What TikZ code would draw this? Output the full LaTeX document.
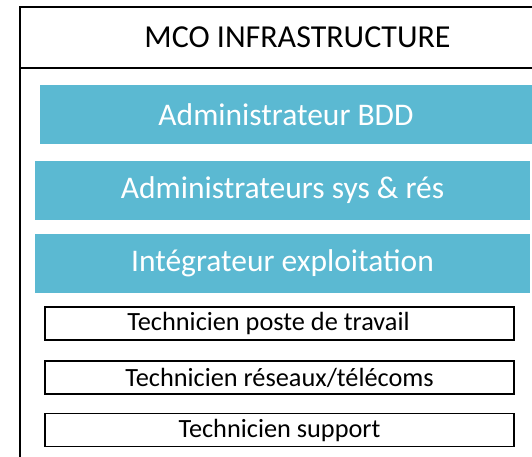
\documentclass[tikz,border=0pt]{standalone}
\usepackage{fontspec}
\setmainfont{Carlito}
\usetikzlibrary{positioning}

\begin{document}
\begin{tikzpicture}[x=1pt,y=1pt,
	rolebox/.style={fill=rolecolor,text=white,minimum height=59pt,inner sep=0pt,font=\fontsize{31.5}{38}\selectfont},
	techbox/.style={draw,line width=1.3pt,minimum width=469pt,minimum height=33pt,inner sep=0pt,font=\fontsize{26.3}{31}\selectfont}]

	\definecolor{rolecolor}{RGB}{91,185,210}

	\useasboundingbox (0,0) rectangle (532,-456);
	\clip (0,0) rectangle (532,-456);

	% outer frame and title
	\draw [line width=1.6pt] (20,-7) rectangle (560,-480);
	\draw [line width=1.6pt] (20,-68) -- (560,-68);
	\node(title) at (297.5,-37.5) [font=\fontsize{32}{38}\selectfont]{MCO INFRASTRUCTURE};

	% roles
	\node(bdd) at (286,-114.5) [rolebox,minimum width=492pt]{Administrateur BDD};
	\node(sys) at (282.5,-190.5) [rolebox,minimum width=495pt]{Administrateurs sys \& rés};
	\node(integ) at (282.5,-263.5) [rolebox,minimum width=495pt]{Intégrateur exploitation};

	% technicians
	\node(poste) at (279.5,-323.5) [techbox]{Technicien poste de travail\rule{22pt}{0pt}};
	\node(reseau) at (279.5,-377.5) [techbox]{Technicien réseaux/télécoms};
	\node(support) at (279.5,-430) [techbox]{Technicien support};

\end{tikzpicture}
\end{document}
